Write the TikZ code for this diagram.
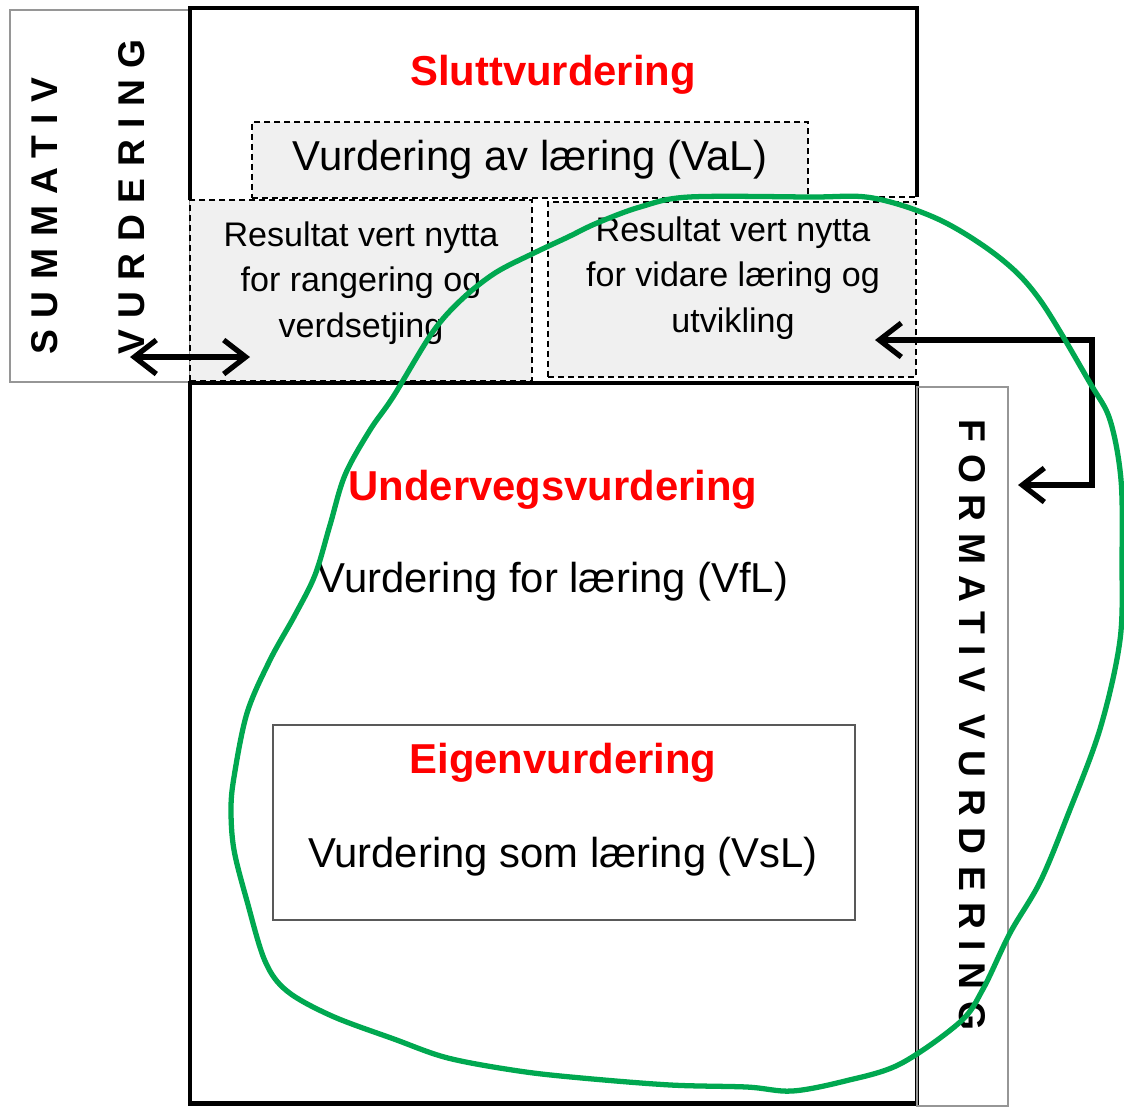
\documentclass[tikz,border=0pt]{standalone}
\usepackage{fontspec}
\setmainfont{Liberation Sans}
\newfontfamily\spacedfont[LetterSpace=31]{Liberation Sans}
\usetikzlibrary{arrows.meta}
\definecolor{Rcolor}{RGB}{255, 0, 0}
\definecolor{Gcolor}{RGB}{0, 168, 80}
\definecolor{Fcolor}{RGB}{240, 240, 240}
\definecolor{Bcolor}{RGB}{150, 150, 150}
\def\framewidth{1.4pt}
\def\mainsize{\fontsize{11.9}{14}\selectfont}
\def\smallsize{\fontsize{9.7}{12.9}\selectfont}

\begin{document}
\begin{tikzpicture}[
    frame/.style={draw, line width=\framewidth},
    sidebox/.style={draw=Bcolor, line width=0.8pt, inner sep=0pt},
    dashbox/.style={draw, fill=Fcolor, line width=0.8pt, dash pattern=on 0.06cm off 0.04cm, inner sep=0pt},
    title/.style={text=Rcolor, font=\mainsize\bfseries},
    label/.style={font=\mainsize},
    sidetext/.style={font=\spacedfont\bfseries\fontsize{10.6}{13}\selectfont},
    conn/.style={line width=1.5pt, {Straight Barb[length=2.2mm,width=3.4mm]}-{Straight Barb[length=2.2mm,width=3.4mm]}}
  ]
    \useasboundingbox (0, 0) rectangle (11.24, -11.10);
    % summativ side
    \node[sidebox, minimum width=1.80cm, minimum height=3.72cm] (summ) at (1.00, -1.96) {};
    \node[rotate=90, sidetext] (summtxt) at (0.45, -2.16) {SUMMATIV};
    \node[rotate=90, sidetext] (summvur) at (1.32, -1.97) {VURDERING};
    % top frame
    \draw[frame] (1.90, -2.00) |- (9.17, -0.08) -- (9.17, -1.97);
    \node[title] (slutt) at (5.53, -0.75) {Sluttvurdering};
    \node[dashbox, minimum width=5.56cm, minimum height=0.76cm] (val) at (5.30, -1.60) {};
    \node[label] (valtxt) at (val) {Vurdering av læring (VaL)};
    \node[dashbox, minimum width=3.42cm, minimum height=1.81cm] (lres) at (3.61, -2.905) {};
    \node[dashbox, minimum width=3.68cm, minimum height=1.75cm] (rres) at (7.32, -2.895) {};
    \draw[line width=0.8pt, dash pattern=on 0.06cm off 0.04cm] (val.south east |- 0, -1.97) -- (9.17, -1.97);
    \node[align=center, font=\smallsize] (lrestxt) at (3.61, -2.83) {Resultat vert nytta\\for rangering og\\verdsetjing};
    \node[align=center, font=\smallsize] (rrestxt) at (7.33, -2.78) {Resultat vert nytta\\for vidare læring og\\utvikling};
    % lower frame
    \node[frame, inner sep=0pt, minimum width=7.27cm, minimum height=7.20cm] (under) at (5.535, -7.43) {};
    \node[title] (undertxt) at (5.53, -4.90) {Undervegsvurdering};
    \node[label] (vfl) at (5.53, -5.82) {Vurdering for læring (VfL)};
    \node[draw=black!65, line width=0.8pt, inner sep=0pt, minimum width=5.82cm, minimum height=1.95cm] (eigen) at (5.64, -8.225) {};
    \node[title] (eigentxt) at (5.63, -7.63) {Eigenvurdering};
    \node[label] (vsl) at (5.63, -8.57) {Vurdering som læring (VsL)};
    % formativ side
    \node[sidebox, minimum width=0.91cm, minimum height=7.19cm] (form) at (9.625, -7.465) {};
    \node[rotate=-90, sidetext] (formtxt) at (9.72, -7.25) {FORMATIV VURDERING};
    % arrows
    \coordinate (tipS) at (1.30, -3.57);
    \coordinate (tipL) at (2.50, -3.57);
    \coordinate (tipR) at (8.75, -3.40);
    \coordinate (tipF) at (10.18, -4.85);
    \coordinate (bend) at (10.92, -3.40);
    \draw[conn] (tipS) -- (tipL);
    \draw[conn] (tipR) -- (bend) |- (tipF);
    % green loop
    \draw[Gcolor, line width=1.5pt] plot[smooth cycle, tension=0.55] coordinates {
      (6.89,-1.97) (8.10,-1.97) (8.73,-1.98) (9.40,-2.20) (10.00,-2.58) (10.40,-3.00)
      (10.90,-3.83) (11.10,-4.20) (11.21,-4.80) (11.22,-5.60) (11.20,-6.40) (11.00,-7.29)
      (10.67,-8.17) (10.40,-8.82) (10.10,-9.33) (9.83,-9.89) (9.60,-10.22) (9.00,-10.64)
      (8.45,-10.81) (7.92,-10.91) (7.47,-10.87) (6.71,-10.85) (5.82,-10.78) (5.19,-10.71)
      (4.48,-10.58) (3.94,-10.39) (3.32,-10.16) (2.87,-9.91) (2.65,-9.61) (2.47,-9.01)
      (2.34,-8.50) (2.31,-8.10) (2.34,-7.77) (2.47,-7.13) (2.70,-6.60) (2.95,-6.15)
      (3.15,-5.75) (3.30,-5.25) (3.45,-4.75) (3.70,-4.30) (3.93,-3.97) (4.32,-3.33)
      (4.61,-3.00) (4.95,-2.73) (5.34,-2.53) (5.68,-2.37) (5.97,-2.23) (6.40,-2.07)
    };
\end{tikzpicture}
\end{document}
